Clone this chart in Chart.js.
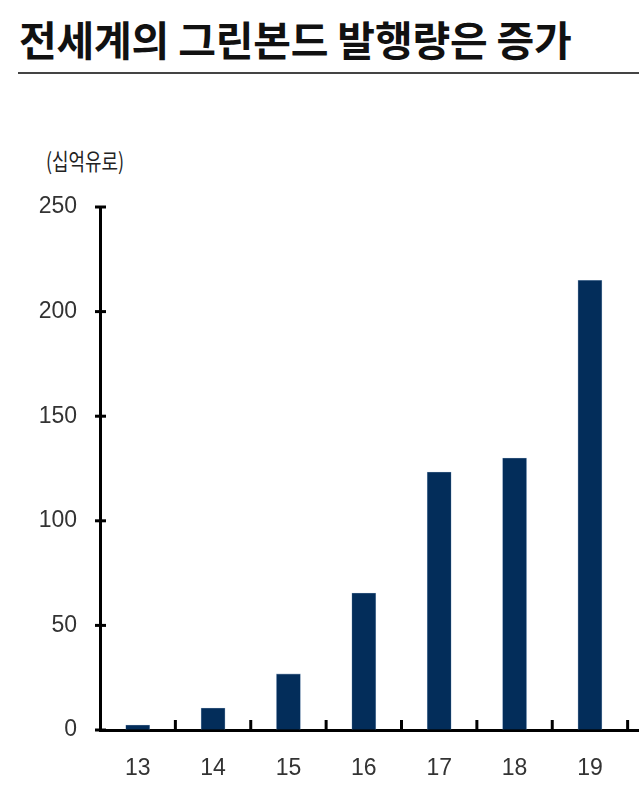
<!DOCTYPE html>
<html>
<head>
<meta charset="utf-8">
<script src="https://cdn.jsdelivr.net/npm/chart.js@4.4.1/dist/chart.umd.min.js"></script>
<style>
  html, body { margin: 0; padding: 0; background: #fff; overflow: hidden; width: 639px; height: 799px; }
  #title { position: absolute; left: 19px; top: 8px; font-family: 'Noto Sans CJK KR', sans-serif; font-weight: 700; font-size: 41px; color: #111; letter-spacing: -0.2px; white-space: nowrap; }
  #rule { position: absolute; left: 18px; top: 72px; width: 640px; height: 0; border-top: 2px solid #444; }
  #unit { position: absolute; left: 46px; top: 143px; font-family: 'Noto Sans CJK KR', sans-serif; font-size: 23px; color: #222; transform: scaleX(0.78); transform-origin: left top; white-space: nowrap; }
  #wrap { position: absolute; left: 0; top: 0; width: 710px; height: 799px; }
</style>
</head>
<body>
<div id="title">전세계의 그린본드 발행량은 증가</div>
<div id="rule"></div>
<div id="unit">(십억유로)</div>
<div id="wrap"><canvas id="c" width="710" height="799"></canvas></div>
<script>
// Data
const categories = ['13', '14', '15', '16', '17', '18', '19', ''];
const issuance = [2.4, 10.5, 26.8, 65.5, 123.3, 130, 215, null];
const yTicks = [0, 50, 100, 150, 200, 250];

const tickFont = { family: "'Liberation Sans Narrow', 'Liberation Sans', sans-serif", size: 23 };

const axisTicks = {
  id: 'axisTicks',
  afterDraw(chart) {
    const ctx = chart.ctx;
    const x = chart.scales.x, y = chart.scales.y;
    ctx.save();
    ctx.strokeStyle = '#000';
    ctx.lineWidth = 3;
    yTicks.forEach(v => {
      const py = y.getPixelForValue(v);
      ctx.beginPath();
      ctx.moveTo(x.left - 5, py);
      ctx.lineTo(x.left + 6, py);
      ctx.stroke();
    });
    for (let i = 0; i < categories.length - 1; i++) {
      const px = (x.getPixelForValue(i) + x.getPixelForValue(i + 1)) / 2;
      ctx.beginPath();
      ctx.moveTo(px, y.bottom);
      ctx.lineTo(px, y.bottom - 10);
      ctx.stroke();
    }
    ctx.restore();
  }
};

new Chart(document.getElementById('c'), {
  type: 'bar',
  data: {
    labels: categories,
    datasets: [{
      data: issuance,
      backgroundColor: '#032d5a',
      borderColor: '#8fa8c4',
      borderWidth: 0.6,
      barThickness: 24
    }]
  },
  options: {
    responsive: false,
    animation: false,
    layout: { padding: { left: 0, right: 7, top: 207, bottom: 0 } },
    plugins: { legend: { display: false }, tooltip: { enabled: false } },
    scales: {
      x: {
        grid: { display: true, drawOnChartArea: false, drawTicks: false, offset: true },
        border: { display: true, color: '#000', width: 3 },
        ticks: { color: '#333', font: tickFont, padding: 25, maxRotation: 0 },
        afterFit(s) { s.height = 69; }
      },
      y: {
        min: 0, max: 250,
        afterBuildTicks(s) { s.ticks = yTicks.map(v => ({ value: v })); },
        grid: { display: true, drawOnChartArea: false, drawTicks: false },
        border: { display: true, color: '#000', width: 3 },
        ticks: { color: '#333', font: tickFont, padding: 23 },
        afterFit(s) { s.width = 100; }
      }
    }
  },
  plugins: [axisTicks]
});
</script>
</body>
</html>
